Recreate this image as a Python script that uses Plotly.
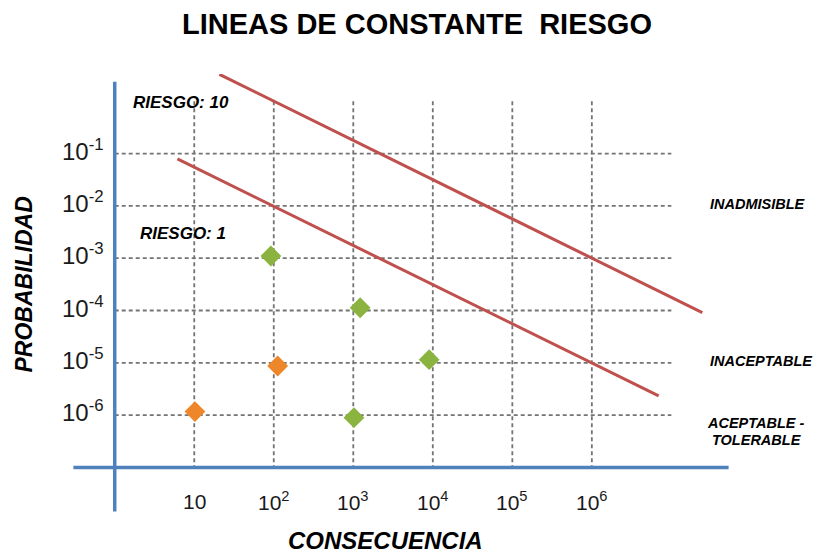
import numpy as np
import plotly.graph_objects as go

# ---------------- data ----------------
consequence_ticks = [1e1, 1e2, 1e3, 1e4, 1e5, 1e6]
consequence_tick_labels = ["10", "10<sup>2</sup>", "10<sup>3</sup>", "10<sup>4</sup>",
                           "10<sup>5</sup>", "10<sup>6</sup>"]
probability_ticks = [1e-1, 1e-2, 1e-3, 1e-4, 1e-5, 1e-6]
probability_tick_labels = ["10<sup>-1</sup>", "10<sup>-2</sup>", "10<sup>-3</sup>",
                           "10<sup>-4</sup>", "10<sup>-5</sup>", "10<sup>-6</sup>"]

green_consequence = [92, 1220, 9000, 1020]
green_probability = [1.10e-3, 1.13e-4, 1.15e-5, 8.95e-7]
orange_consequence = [10.2, 112]
orange_probability = [1.17e-6, 8.7e-6]

riesgo10_consequence = [20.7, 2.45e7]
riesgo10_probability = [3.27, 9.1e-5]
riesgo1_consequence = [6.14, 6.92e6]
riesgo1_probability = [0.079, 2.34e-6]

risk_labels = ["RIESGO: 10", "RIESGO: 1"]
zone_labels = ["INADMISIBLE", "INACEPTABLE", "ACEPTABLE -", "TOLERABLE"]
title_text = "LINEAS DE CONSTANTE  RIESGO"
x_title = "CONSECUENCIA"
y_title = "PROBABILIDAD"

# grid / axis extents (data units)
grid_prob_top, grid_prob_bottom = 1.0, 1e-7
grid_cons_left, grid_cons_right = 1.0, 1e7
haxis_cons = [10 ** -0.52, 10 ** 7.72]
vaxis_prob = [10 ** 0.37, 10 ** -7.84]

# ---------------- layout geometry ----------------
W_FIG, H_FIG = 816, 554
X_RANGE = [-0.55, 7.75]
Y_RANGE = [-7.87, 0.52]
PX_PER_DEC_X = 79.6
PX_PER_DEC_Y = 52.3
L = 114.6 + X_RANGE[0] * PX_PER_DEC_X
PW = (X_RANGE[1] - X_RANGE[0]) * PX_PER_DEC_X
R = W_FIG - L - PW
T = 153.3 - (Y_RANGE[1] - (-1)) * PX_PER_DEC_Y
PH = (Y_RANGE[1] - Y_RANGE[0]) * PX_PER_DEC_Y
B = H_FIG - T - PH


def pxx(px):
    return (px - L) / PW


def pxy(py):
    return (T + PH - py) / PH


GRID = dict(color="#747474", width=1.8, dash="4px,3px")
BLUE = "#4F81BD"
RED = "#C0504D"
FONT = "Liberation Sans, Arial, sans-serif"

fig = go.Figure()

# grid lines
for c in consequence_ticks:
    fig.add_trace(go.Scatter(x=[c, c], y=[grid_prob_top, grid_prob_bottom], mode="lines",
                             line=GRID, hoverinfo="skip", showlegend=False))
for p in probability_ticks:
    fig.add_trace(go.Scatter(x=[grid_cons_left, grid_cons_right], y=[p, p], mode="lines",
                             line=GRID, hoverinfo="skip", showlegend=False))

# blue axes
fig.add_trace(go.Scatter(x=haxis_cons, y=[grid_prob_bottom, grid_prob_bottom], mode="lines",
                         line=dict(color=BLUE, width=3.5), hoverinfo="skip", showlegend=False))
fig.add_trace(go.Scatter(x=[grid_cons_left, grid_cons_left], y=vaxis_prob, mode="lines",
                         line=dict(color=BLUE, width=3.5), hoverinfo="skip", showlegend=False))

# risk lines
fig.add_trace(go.Scatter(x=riesgo10_consequence, y=riesgo10_probability, mode="lines",
                         line=dict(color=RED, width=3), name=risk_labels[0], showlegend=False))
fig.add_trace(go.Scatter(x=riesgo1_consequence, y=riesgo1_probability, mode="lines",
                         line=dict(color=RED, width=3), name=risk_labels[1], showlegend=False))

# points
fig.add_trace(go.Scatter(x=green_consequence, y=green_probability, mode="markers",
                         marker=dict(symbol="diamond", size=16, color="#8AB43F",
                                     line=dict(width=0)), showlegend=False))
fig.add_trace(go.Scatter(x=orange_consequence, y=orange_probability, mode="markers",
                         marker=dict(symbol="diamond", size=16, color="#EE872A",
                                     line=dict(width=0)), showlegend=False))

ann = []
# x tick labels
for v, t in zip(consequence_ticks, consequence_tick_labels):
    ann.append(dict(x=np.log10(v), xref="x", y=pxy(501), yref="paper", text=t,
                    showarrow=False, xanchor="center", yanchor="middle",
                    font=dict(family=FONT, size=21, color="#1a1a1a")))
# y tick labels
for v, t in zip(probability_ticks, probability_tick_labels):
    ann.append(dict(x=pxx(106), xref="paper", y=np.log10(v), yref="y", text=t,
                    showarrow=False, xanchor="right", yanchor="middle", yshift=4,
                    font=dict(family=FONT, size=24, color="#1a1a1a")))

BI = dict(family=FONT, color="black")
ann.append(dict(x=pxx(131), y=pxy(102), xref="paper", yref="paper", text="<b><i>%s</i></b>" % risk_labels[0],
                showarrow=False, xanchor="left", yanchor="middle", font=dict(BI, size=17)))
ann.append(dict(x=pxx(138), y=pxy(233), xref="paper", yref="paper", text="<b><i>%s</i></b>" % risk_labels[1],
                showarrow=False, xanchor="left", yanchor="middle", font=dict(BI, size=17)))
for lab, (cx, cy) in zip(zone_labels, [(759, 204), (762, 361), (757, 423), (757.5, 440)]):
    ann.append(dict(x=pxx(cx), y=pxy(cy), xref="paper", yref="paper", text="<b><i>%s</i></b>" % lab,
                    showarrow=False, xanchor="center", yanchor="middle", font=dict(BI, size=14.5)))
ann.append(dict(x=pxx(386), y=pxy(540), xref="paper", yref="paper", text="<b><i>%s</i></b>" % x_title,
                showarrow=False, xanchor="center", yanchor="middle", font=dict(BI, size=24)))
ann.append(dict(x=pxx(24), y=pxy(284), xref="paper", yref="paper", text="<b><i>%s</i></b>" % y_title,
                showarrow=False, xanchor="center", yanchor="middle", textangle=-90,
                font=dict(BI, size=23)))

fig.update_layout(
    width=W_FIG, height=H_FIG,
    margin=dict(l=L, r=R, t=T, b=B, pad=0),
    paper_bgcolor="white", plot_bgcolor="white",
    title=dict(text="<b>%s</b>" % title_text, x=417 / W_FIG, xanchor="center",
               y=1 - 24 / H_FIG, yanchor="middle", xref="container", yref="container",
               font=dict(family=FONT, size=29, color="black")),
    xaxis=dict(type="log", range=X_RANGE, showgrid=False, zeroline=False,
               showticklabels=False, ticks="", showline=False),
    yaxis=dict(type="log", range=Y_RANGE, showgrid=False, zeroline=False,
               showticklabels=False, ticks="", showline=False),
    annotations=ann,
    hovermode=False,
)

fig.write_html("out.html", config={"displayModeBar": False},
               post_script="document.body.style.margin='0px';document.body.style.padding='0px';")
